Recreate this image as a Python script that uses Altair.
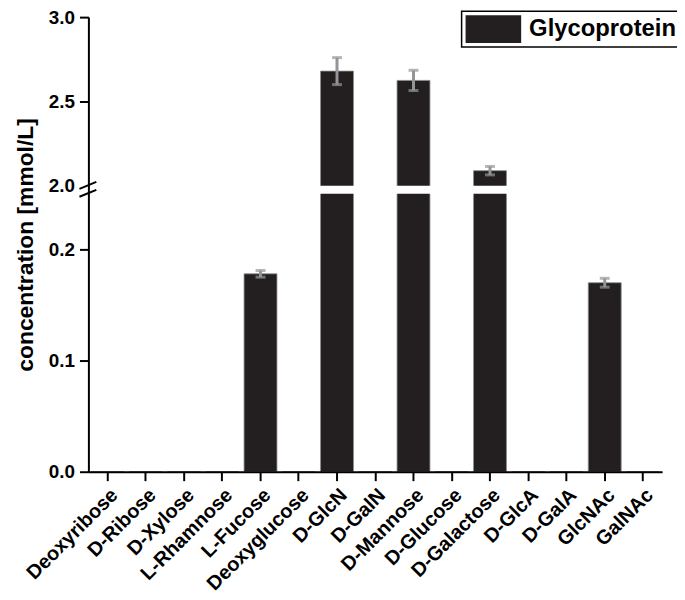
import altair as alt
import pandas as pd

categories = ["Deoxyribose", "D-Ribose", "D-Xylose", "L-Rhamnose", "L-Fucose",
              "Deoxyglucose", "D-GlcN", "D-GalN", "D-Mannose", "D-Glucose",
              "D-Galactose", "D-GlcA", "D-GalA", "GlcNAc", "GalNAc"]
values = [0, 0, 0, 0, 0.178, 0, 2.68, 0, 2.625, 0, 2.09, 0, 0, 0.170, 0]
errors = [0, 0, 0, 0, 0.003, 0, 0.08, 0, 0.06, 0, 0.025, 0, 0, 0.004, 0]
series = "Glycoprotein"
y_ticks = [0.0, 0.1, 0.2, 2.0, 2.5, 3.0]

df = pd.DataFrame({"sugar": categories, "value": values, "err": errors})
df["series"] = series
df["lo"] = df["value"] - df["err"]
df["hi"] = df["value"] + df["err"]
err_df = df[df["value"] > 0]

W, H = 578, 458
FONT = "Liberation Sans"

yscale = alt.Scale(domain=[0, 0.25, 2.0, 3.0], range=[H, 178, 170, 0], nice=False)
xenc = alt.X("sugar:N", sort=categories, scale=alt.Scale(paddingInner=0.14, paddingOuter=0.07),
             axis=alt.Axis(title=None, labelAngle=-45, labelFontSize=20, labelFont=FONT,
                           labelFontWeight="bold", tickSize=9, tickWidth=2, domainWidth=2,
                           labelPadding=4, domainColor="black", tickColor="black",
                           labelColor="black", zindex=1))

bars = alt.Chart(df).mark_bar(stroke="#8a8a8a", strokeWidth=0.8).encode(
    x=xenc,
    y=alt.Y("value:Q", scale=yscale,
            axis=alt.Axis(values=y_ticks, format=".1f", title="concentration [mmol/L]",
                          titleFontSize=23, titleFont=FONT, titleFontWeight="bold",
                          titleColor="black", titlePadding=11,
                          labelFontSize=19, labelFont=FONT, labelFontWeight="bold",
                          labelColor="black", tickSize=9, tickWidth=2, domainWidth=2,
                          domainColor="black", labelPadding=5, grid=False, zindex=1,
                          tickColor={"expr": "datum.value == 2 ? 'rgba(0,0,0,0)' : 'black'"})),
    color=alt.Color("series:N", scale=alt.Scale(range=["#231f20"]),
                    legend=alt.Legend(title=None, orient="none", legendX=376, legendY=-6,
                                      symbolType="M-1,-1H3V1H-1Z", symbolSize=784,
                                      symbolStrokeWidth=0,
                                      labelFontSize=24, labelFont=FONT,
                                      labelFontWeight="bold", labelColor="black",
                                      labelOffset=36, padding=4, strokeColor="black",
                                      labelLimit=300)),
)

rules = alt.Chart(err_df).mark_rule(color="#939598", strokeWidth=3).encode(
    x=alt.X("sugar:N", sort=categories), y="lo:Q", y2="hi:Q")
caps_lo = alt.Chart(err_df).mark_tick(color="#939598", thickness=3, size=10).encode(
    x=alt.X("sugar:N", sort=categories), y="lo:Q")
caps_hi = alt.Chart(err_df).mark_tick(color="#939598", thickness=3, size=10).encode(
    x=alt.X("sugar:N", sort=categories), y="hi:Q")

gap = alt.Chart(pd.DataFrame({"a": [0.25], "b": [2.0]})).mark_rect(color="white").encode(
    x=alt.value(0), x2=alt.value(W), y=alt.Y("a:Q"), y2="b:Q")

brk1 = alt.Chart(pd.DataFrame({"k": [0]})).mark_rule(color="black", strokeWidth=2).encode(
    x=alt.value(-9), x2=alt.value(8), y=alt.value(173), y2=alt.value(166))
brk2 = alt.Chart(pd.DataFrame({"k": [0]})).mark_rule(color="black", strokeWidth=2).encode(
    x=alt.value(-9), x2=alt.value(8), y=alt.value(181), y2=alt.value(174))

chart = alt.layer(bars, rules, caps_lo, caps_hi, gap, brk1, brk2).resolve_scale(y="shared").properties(
    width=W, height=H,
    autosize=alt.AutoSizeParams(type="none"),
    padding={"left": 81, "top": 7, "right": 15, "bottom": 120},
).configure_view(stroke=None).configure_legend(strokeColor="black", strokeWidth=1.5)

chart.save("out.html", embed_options={"renderer": "svg", "actions": False})
